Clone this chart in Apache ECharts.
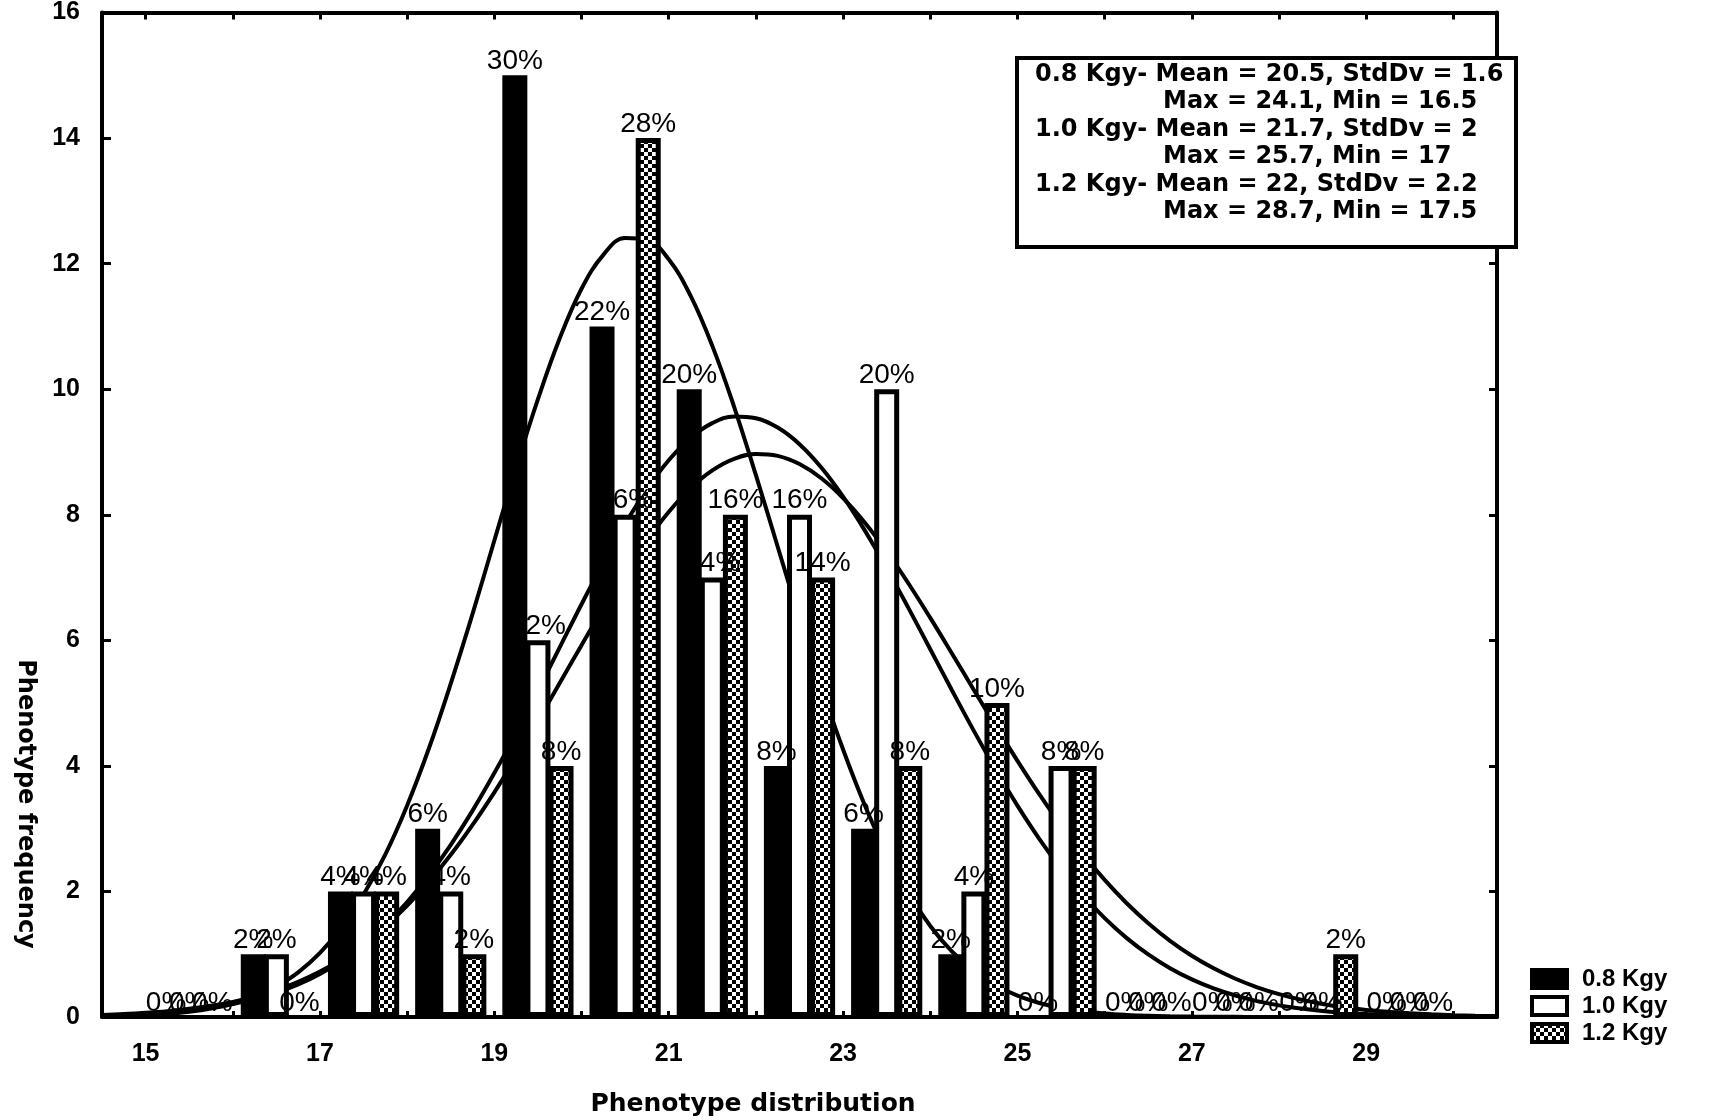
<!DOCTYPE html>
<html><head><meta charset="utf-8">
<script src="https://cdn.jsdelivr.net/npm/echarts@6/dist/echarts.min.js"></script>
<style>html,body{margin:0;padding:0;background:#fff}#c{width:1710px;height:1120px}</style>
</head><body><div id="c"></div>
<script>
// ---- data ----
const bins = [15, 16, 17, 18, 19, 20, 21, 22, 23, 24, 25, 26, 27, 28, 29];
const dose08 = [0, 1, 2, 3, 15, 11, 10, 4, 3, 1, 0, 0, 0, 0, 0];
const dose10 = [0, 1, 2, 2, 6, 8, 7, 8, 10, 2, 4, 0, 0, 0, 0];
const dose12 = [0, 0, 2, 1, 4, 14, 8, 7, 4, 5, 4, 0, 0, 1, 0];
const seriesNames = ['0.8 Kgy', '1.0 Kgy', '1.2 Kgy'];
const means = [20.5, 21.7, 22];
const stdDevs = [1.6, 2, 2.2];
const maxVals = [24.1, 25.7, 28.7];
const minVals = [16.5, 17, 17.5];
// fitted curves at quarter-unit steps from 14.5 to 30.5
const curveX = [14.5, 14.75, 15, 15.25, 15.5, 15.75, 16, 16.25, 16.5, 16.75, 17, 17.25, 17.5, 17.75, 18, 18.25, 18.5, 18.75, 19, 19.25, 19.5, 19.75, 20, 20.25, 20.5, 20.75, 21, 21.25, 21.5, 21.75, 22, 22.25, 22.5, 22.75, 23, 23.25, 23.5, 23.75, 24, 24.25, 24.5, 24.75, 25, 25.25, 25.5, 25.75, 26, 26.25, 26.5, 26.75, 27, 27.25, 27.5, 27.75, 28, 28.25, 28.5, 28.75, 29, 29.25, 29.5, 29.75, 30, 30.25, 30.5];
const fit08 = [0.01, 0.017, 0.029, 0.05, 0.082, 0.133, 0.21, 0.32, 0.485, 0.71, 1.02, 1.43, 1.95, 2.59, 3.37, 4.28, 5.31, 6.42, 7.59, 8.75, 9.84, 10.81, 11.60, 12.14, 12.41, 12.38, 12.07, 11.49, 10.69, 9.72, 8.63, 7.49, 6.35, 5.26, 4.26, 3.37, 2.60, 1.97, 1.45, 1.04, 0.735, 0.506, 0.34, 0.223, 0.143, 0.09, 0.055, 0.033, 0.019, 0.011, 0.006, 0.003, 0.002, 0, 0, 0, 0, 0, 0, 0, 0, 0, 0, 0, 0];
const fit10 = [0.022, 0.033, 0.049, 0.072, 0.103, 0.147, 0.206, 0.284, 0.387, 0.519, 0.687, 0.896, 1.153, 1.463, 1.830, 2.257, 2.743, 3.287, 3.885, 4.526, 5.199, 5.888, 6.575, 7.237, 7.855, 8.405, 8.868, 9.224, 9.460, 9.565, 9.538, 9.389, 9.124, 8.752, 8.288, 7.747, 7.150, 6.513, 5.857, 5.200, 4.557, 3.942, 3.367, 2.838, 2.362, 1.941, 1.574, 1.260, 0.996, 0.777, 0.599, 0.455, 0.342, 0.253, 0.185, 0.134, 0.095, 0.067, 0.047, 0.032, 0.022, 0.014, 0.0095, 0.006, 0.004];
const fit12 = [0.032, 0.046, 0.066, 0.093, 0.130, 0.178, 0.241, 0.323, 0.428, 0.560, 0.723, 0.921, 1.161, 1.444, 1.775, 2.155, 2.583, 3.060, 3.579, 4.135, 4.720, 5.319, 5.923, 6.513, 7.076, 7.591, 8.044, 8.420, 8.706, 8.891, 8.968, 8.938, 8.807, 8.581, 8.266, 7.874, 7.416, 6.905, 6.357, 5.787, 5.209, 4.637, 4.080, 3.549, 3.053, 2.597, 2.184, 1.816, 1.494, 1.214, 0.976, 0.775, 0.609, 0.473, 0.364, 0.276, 0.207, 0.154, 0.113, 0.082, 0.059, 0.042, 0.029, 0.020, 0.014];
const xTickValues = [15, 16, 17, 18, 19, 20, 21, 22, 23, 24, 25, 26, 27, 28, 29, 30];
const xLabelValues = [15, 17, 19, 21, 23, 25, 27, 29];

// ---- styles ----
const pc = document.createElement('canvas');
pc.width = 8; pc.height = 8;
const g = pc.getContext('2d');
g.fillStyle = '#fff'; g.fillRect(0, 0, 8, 8);
g.fillStyle = '#000'; g.fillRect(0, 0, 4, 4); g.fillRect(4, 4, 4, 4);
const patternFill = { image: pc, repeat: 'repeat' };

const BOLD = '"DejaVu Sans", sans-serif';
const ARIAL = '"Liberation Sans", Arial, sans-serif';
const fills = ['#000', '#fff', patternFill];
const counts = [dose08, dose10, dose12];
const fits = [fit08, fit10, fit12];

function barSeries(k) {
  const arr = counts[k];
  const total = arr.reduce((a, b) => a + b, 0);
  return {
    name: seriesNames[k], type: 'bar', z: 3,
    barWidth: 25, barGap: '-7.6%',
    itemStyle: { color: fills[k], borderColor: '#000', borderWidth: 5 },
    label: {
      show: true, position: 'top', distance: 0, color: '#000',
      fontFamily: ARIAL, fontSize: 28,
      formatter: p => Math.round(p.value[1] / total * 100) + '%'
    },
    data: bins.map((b, i) => arr[i] === 0
      ? { value: [b + 0.5, 0], itemStyle: { borderWidth: 0 } }
      : { value: [b + 0.5, arr[i]] })
  };
}
function lineSeries(k) {
  return {
    name: 'fit ' + seriesNames[k], type: 'line', z: 2, smooth: 0.4, showSymbol: false, symbol: 'none', silent: true,
    lineStyle: { color: '#000', width: 4 },
    data: curveX.map((x, i) => [x, fits[k][i]])
  };
}

const boxTexts = [];
for (let k = 0; k < 3; k++) {
  boxTexts.push({
    type: 'text', x: 1035, y: 75 + k * 55, z: 101,
    style: { text: seriesNames[k] + '- Mean = ' + means[k] + ', StdDv = ' + stdDevs[k], font: 'bold 24px ' + BOLD, fill: '#000', align: 'left', textAlign: 'left', verticalAlign: 'middle', textVerticalAlign: 'middle' }
  });
  boxTexts.push({
    type: 'text', x: 1163, y: 102 + k * 55, z: 101,
    style: { text: 'Max = ' + maxVals[k] + ', Min = ' + minVals[k], font: 'bold 24px ' + BOLD, fill: '#000', align: 'left', textAlign: 'left', verticalAlign: 'middle', textVerticalAlign: 'middle' }
  });
}

const axisFont = { fontFamily: ARIAL, fontWeight: 'bold', fontSize: 25, color: '#000' };

const option = {
  animation: false,
  backgroundColor: '#fff',
  grid: { left: 102, right: 213, top: 12, bottom: 103, containLabel: false },
  xAxis: [
    {
      type: 'value', position: 'bottom', min: 14.5, max: 30.5,
      axisLine: { show: true, onZero: false, lineStyle: { color: '#000', width: 4 } },
      axisTick: { show: true, inside: true, length: 6, lineStyle: { color: '#000', width: 3 }, customValues: xTickValues },
      axisLabel: Object.assign({ customValues: xLabelValues, margin: 25 }, axisFont),
      splitLine: { show: false }
    },
    {
      type: 'value', position: 'top', min: 14.5, max: 30.5,
      axisLine: { show: true, onZero: false, lineStyle: { color: '#000', width: 4 } },
      axisTick: { show: true, inside: true, length: 7, lineStyle: { color: '#000', width: 3 }, customValues: xTickValues },
      axisLabel: { show: false },
      splitLine: { show: false }
    }
  ],
  yAxis: [
    {
      type: 'value', position: 'left', min: 0, max: 16, interval: 2,
      axisLine: { show: true, onZero: false, lineStyle: { color: '#000', width: 4 } },
      axisTick: { show: true, inside: true, length: 9, lineStyle: { color: '#000', width: 3 } },
      axisLabel: Object.assign({ margin: 22 }, axisFont),
      splitLine: { show: false }
    },
    {
      type: 'value', position: 'right', min: 0, max: 16, interval: 2,
      axisLine: { show: true, onZero: false, lineStyle: { color: '#000', width: 4 } },
      axisTick: { show: true, inside: true, length: 8, lineStyle: { color: '#000', width: 3 } },
      axisLabel: { show: false },
      splitLine: { show: false }
    }
  ],
  legend: {
    data: seriesNames, orient: 'vertical', left: 1530, top: 967, padding: 0,
    itemWidth: 35, itemHeight: 18, itemGap: 3, icon: 'rect', selectedMode: false,
    itemStyle: { borderColor: '#000', borderWidth: 4 },
    textStyle: { fontFamily: ARIAL, fontWeight: 'bold', fontSize: 24, color: '#000', padding: [0, 0, 0, 10] }
  },
  graphic: [
    { type: 'rect', z: 100, shape: { x: 1017, y: 58, width: 499, height: 189 }, style: { fill: '#fff', stroke: '#000', lineWidth: 4 } },
    ...boxTexts,
    { type: 'text', x: 753, y: 1104, z: 100, style: { text: 'Phenotype distribution', font: 'bold 25px ' + BOLD, fill: '#000', align: 'center', textAlign: 'center', verticalAlign: 'middle', textVerticalAlign: 'middle' } },
    { type: 'text', x: 25, y: 804, rotation: -Math.PI / 2, z: 100, style: { text: 'Phenotype frequency', font: 'bold 24px ' + BOLD, fill: '#000', align: 'center', textAlign: 'center', verticalAlign: 'middle', textVerticalAlign: 'middle' } }
  ],
  series: [lineSeries(0), lineSeries(1), lineSeries(2), barSeries(0), barSeries(1), barSeries(2)]
};

const chart = echarts.init(document.getElementById('c'), null, { renderer: 'canvas' });
chart.setOption(option);
</script>
</body></html>
